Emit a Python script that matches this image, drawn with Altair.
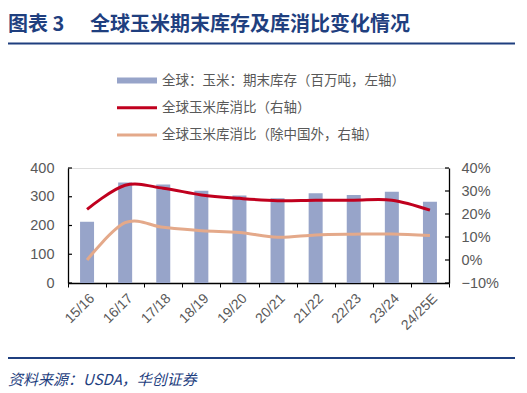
import altair as alt
import pandas as pd

seasons = ["15/16", "16/17", "17/18", "18/19", "19/20", "20/21", "21/22", "22/23", "23/24", "24/25E"]
stocks = [213, 350, 343, 321, 304, 295, 312, 306, 317, 283]
ratio_world = [0.22, 0.325, 0.312, 0.283, 0.268, 0.258, 0.26, 0.26, 0.26, 0.217]
ratio_ex_china = [0.0, 0.162, 0.142, 0.127, 0.12, 0.099, 0.109, 0.112, 0.113, 0.106]
left_ticks = [0, 100, 200, 300, 400]
right_ticks = [-0.1, 0.0, 0.1, 0.2, 0.3, 0.4]

title_prefix = "图表 3"
title_main = "全球玉米期末库存及库消比变化情况"
legend_labels = ["全球：玉米：期末库存（百万吨，左轴）", "全球玉米库消比（右轴）", "全球玉米库消比（除中国外，右轴）"]
source_text = "资料来源：USDA，华创证券"

BLUE = "#1F3F7F"
BAR = "#97A4C9"
RED = "#C0001E"
ORANGE = "#E4A98A"
GRAY = "#595959"
W, H = 381, 115
LABEL_FONT = "Liberation Sans"
CJK = "Noto Sans CJK SC"

df = pd.DataFrame({"season": seasons, "stocks": stocks,
                   "world": ratio_world, "exchina": ratio_ex_china})

xenc = alt.X("season:N", sort=seasons,
             scale=alt.Scale(paddingInner=0, paddingOuter=0),
             axis=alt.Axis(title=None, labelAngle=-45, labelFontSize=14, labelColor=GRAY,
                           labelFont=LABEL_FONT, domainColor="black", domainWidth=1.3,
                           tickColor="black", tickSize=4, tickBand="extent",
                           labelPadding=4, labelOverlap=False))

yl_scale = alt.Scale(domain=[0, 400], nice=False, zero=True)
yr_scale = alt.Scale(domain=[-0.1, 0.4], nice=False, zero=False)

left_axis = alt.Axis(title=None, values=left_ticks, ticks=False, grid=False,
                     labelFontSize=14.5, labelColor=GRAY, labelFont=LABEL_FONT,
                     domainColor="black", domainWidth=1.3, labelPadding=14,
                     labelOverlap=False)
right_axis = alt.Axis(title=None, orient="right", values=right_ticks, format=".0%",
                      ticks=False, grid=False, labelFontSize=14.5, labelColor=GRAY,
                      labelFont=LABEL_FONT, domainColor="black", domainWidth=1.3,
                      labelPadding=12, labelOverlap=False)

base = alt.Chart(df)
bars = base.mark_bar(size=14, color=BAR).encode(
    x=xenc,
    y=alt.Y("stocks:Q", scale=yl_scale, axis=left_axis))
lt = alt.Chart(pd.DataFrame({"v": left_ticks})).mark_rule(color="black", strokeWidth=1.2).encode(
    y=alt.Y("v:Q", scale=yl_scale, axis=left_axis), x=alt.value(0), x2=alt.value(4))
left = alt.layer(bars, lt)

red = base.mark_line(color=RED, strokeWidth=3, interpolate="cardinal").encode(
    x=alt.X("season:N", sort=seasons),
    y=alt.Y("world:Q", scale=yr_scale, axis=right_axis))
orange = base.mark_line(color=ORANGE, strokeWidth=3, interpolate="cardinal").encode(
    x=alt.X("season:N", sort=seasons),
    y=alt.Y("exchina:Q", scale=yr_scale, axis=right_axis))
rt = alt.Chart(pd.DataFrame({"v": right_ticks})).mark_rule(color="black", strokeWidth=1.2).encode(
    y=alt.Y("v:Q", scale=yr_scale, axis=right_axis), x=alt.value(W - 4), x2=alt.value(W))
right = alt.layer(red, orange, rt)

one = pd.DataFrame({"a": [0]})

def text(t, x, y, size, color, weight="normal", style="normal", font=CJK):
    return alt.Chart(one).mark_text(align="left", baseline="middle", fontSize=size, color=color,
                                    fontWeight=weight, fontStyle=style, font=font).encode(
        x=alt.value(x), y=alt.value(y), text=alt.value(t))

def hrule(x1, x2, y, color, width):
    return alt.Chart(one).mark_rule(color=color, strokeWidth=width).encode(
        x=alt.value(x1), x2=alt.value(x2), y=alt.value(y))

annotations = [
    text(title_prefix, -60, -143, 20, BLUE, weight="bold"),
    text(title_main, 22, -143, 20, BLUE, weight="bold"),
    hrule(-63, 447, -124.5, BLUE, 2),
    alt.Chart(one).mark_rect(color=BAR).encode(x=alt.value(49), x2=alt.value(89),
                                               y=alt.value(-90.5), y2=alt.value(-84.5)),
    hrule(49, 89, -60.3, RED, 3),
    hrule(49, 89, -33, ORANGE, 3),
    text(legend_labels[0], 94, -87.3, 13.5, GRAY),
    text(legend_labels[1], 94, -60.3, 13.5, GRAY),
    text(legend_labels[2], 94, -33, 13.5, GRAY),
    hrule(-63, 447, 190, BLUE, 2),
    text(source_text, -60, 212, 15, BLUE, style="italic"),
]

chart = alt.layer(left, right, *annotations).resolve_scale(y="independent").properties(
    width=W, height=H,
    autosize=alt.AutoSizeParams(type="none"),
    padding={"left": 60, "top": 160, "right": 70, "bottom": 106},
).configure_view(stroke=None).configure(background="white")

chart.save("out.html", embed_options={"renderer": "svg", "actions": False})
